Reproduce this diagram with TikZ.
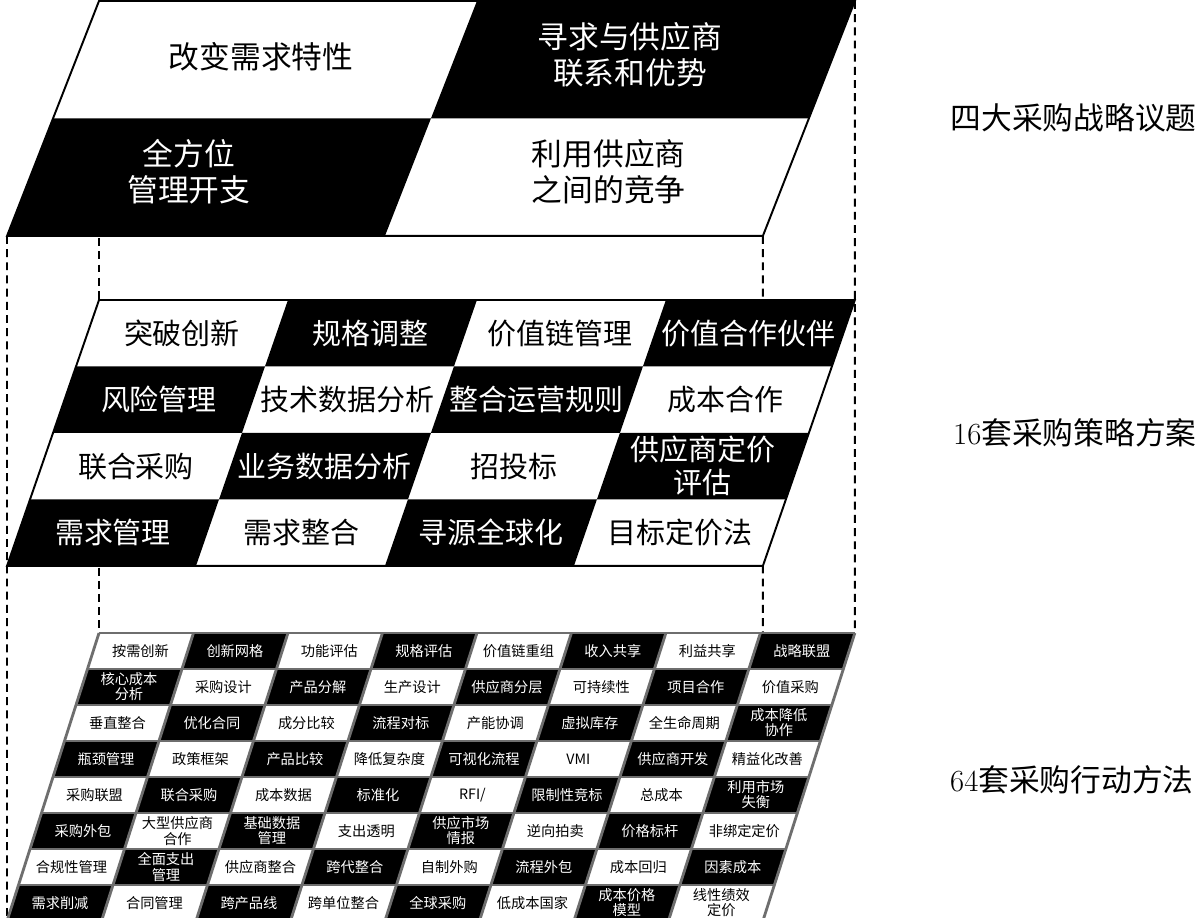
\documentclass[tikz,border=0pt]{standalone}
\usepackage{fontspec}
\usepackage{tikz}
\newfontfamily\cjk{Noto Sans CJK SC}
\definecolor{negro}{HTML}{000000}
\definecolor{blanco}{HTML}{FFFFFF}
\definecolor{rejilla}{HTML}{6E6E6E}
\tikzset{
  layerline/.style={draw=negro,line width=1.1pt},
  gridline/.style={draw=rejilla,line width=1.6pt},
  proj/.style={draw=negro,line width=1.1pt,dash pattern=on 4.5pt off 3pt},
  issueword/.style={font=\cjk\fontsize{17.5}{20.5}\selectfont,align=center,inner sep=0pt},
  planword/.style={font=\cjk\fontsize{16.5}{18.7}\selectfont,align=center,inner sep=0pt},
  actword/.style={font=\cjk\fontsize{8.1}{8.6}\selectfont,align=center,inner sep=0pt},
  levelword/.style={font=\fontsize{17.5}{21}\selectfont,anchor=east,inner sep=0pt},
  ondark/.style={text=blanco},
  onlight/.style={text=negro}
}

\begin{document}
\begin{tikzpicture}[x=0.02cm,y=-0.02cm]
\useasboundingbox (0,0) rectangle (1200,917);

% corners of the three layers
\begin{scope}[shift={(99,1)},x={(7.56cm,0cm)},y={(-0.92cm,-2.35cm)}]
\coordinate (tNW) at (0,0); \coordinate (tNE) at (2,0);
\coordinate (tSW) at (0,2); \coordinate (tSE) at (2,2);
\end{scope}
\begin{scope}[shift={(99,300)},x={(3.78cm,0cm)},y={(-0.46cm,-1.33cm)}]
\coordinate (mNW) at (0,0); \coordinate (mNE) at (4,0);
\coordinate (mSW) at (0,4); \coordinate (mSE) at (4,4);
\end{scope}
\begin{scope}[shift={(99,633)},x={(1.89cm,0cm)},y={(-0.23cm,-0.72cm)}]
\coordinate (bNW) at (0,0); \coordinate (bNE) at (8,0);
\coordinate (bSW) at (0,8); \coordinate (bSE) at (8,8);
\end{scope}

% projection lines
\draw[proj] (tSW)--(mSW)--(bSW);
\draw[proj] (tNW)--(mNW)--(bNW);
\draw[proj] (tSE)--(mSE)--(bSE);
\draw[proj] (tNE)--(mNE)--(bNE);

% four issues
\begin{scope}[shift={(99,1)},x={(7.56cm,0cm)},y={(-0.92cm,-2.35cm)}]
\fill[blanco] (tNW)--(tNE)--(tSE)--(tSW)--cycle;
\fill[negro] (1,0)--(2,0)--(2,1)--(1,1)--cycle;
\fill[negro] (0,1)--(1,1)--(1,2)--(0,2)--cycle;
\draw[layerline] (tNW)--(tNE)--(tSE)--(tSW)--cycle;
\node[issueword,onlight] (issue-1) at (0.487,0.477) {改变需求特性};
\node[issueword,ondark] (issue-2) at (1.461,0.46) {寻求与供应商\\联系和优势};
\node[issueword,ondark] (issue-3) at (0.415,1.455) {全方位\\管理开支};
\node[issueword,onlight] (issue-4) at (1.526,1.455) {利用供应商\\之间的竞争};
\end{scope}

% sixteen plans
\begin{scope}[shift={(99,300)},x={(3.78cm,0cm)},y={(-0.46cm,-1.33cm)}]
\fill[blanco] (mNW)--(mNE)--(mSE)--(mSW)--cycle;
\foreach \r in {0,...,3} \foreach \c in {0,...,3} {
  \pgfmathtruncatemacro\tono{mod(\r+\c,2)}
  \ifnum\tono=1 \fill[negro] (\c,\r)--++(1,0)--++(0,1)--++(-1,0)--cycle; \fi
}
\draw[layerline] (mNW)--(mNE)--(mSE)--(mSW)--cycle;
\node[planword,onlight] (plan-1) at (0.5,0.5) {突破创新};
\node[planword,ondark] (plan-2) at (1.5,0.5) {规格调整};
\node[planword,onlight] (plan-3) at (2.5,0.5) {价值链管理};
\node[planword,ondark] (plan-4) at (3.5,0.5) {价值合作伙伴};
\node[planword,ondark] (plan-5) at (0.5,1.5) {风险管理};
\node[planword,onlight] (plan-6) at (1.5,1.5) {技术数据分析};
\node[planword,ondark] (plan-7) at (2.5,1.5) {整合运营规则};
\node[planword,onlight] (plan-8) at (3.5,1.5) {成本合作};
\node[planword,onlight] (plan-9) at (0.5,2.5) {联合采购};
\node[planword,ondark] (plan-10) at (1.5,2.5) {业务数据分析};
\node[planword,onlight] (plan-11) at (2.5,2.5) {招投标};
\node[planword,ondark] (plan-12) at (3.5,2.5) {供应商定价\\评估};
\node[planword,ondark] (plan-13) at (0.5,3.5) {需求管理};
\node[planword,onlight] (plan-14) at (1.5,3.5) {需求整合};
\node[planword,ondark] (plan-15) at (2.5,3.5) {寻源全球化};
\node[planword,onlight] (plan-16) at (3.5,3.5) {目标定价法};
\end{scope}

% sixty-four actions
\begin{scope}[shift={(99,633)},x={(1.89cm,0cm)},y={(-0.23cm,-0.72cm)}]
\fill[blanco] (bNW)--(bNE)--(bSE)--(bSW)--cycle;
\foreach \r in {0,...,7} \foreach \c in {0,...,7} {
  \pgfmathtruncatemacro\tono{mod(\r+\c,2)}
  \ifnum\tono=1 \fill[negro] (\c,\r)--++(1,0)--++(0,1)--++(-1,0)--cycle; \fi
}
\foreach \i in {0,...,8} {
  \draw[gridline] (\i,0)--(\i,8);
  \draw[gridline] (0,\i)--(8,\i);
}
\node[actword,onlight] (act-1) at (0.5,0.5) {按需创新};
\node[actword,ondark] (act-2) at (1.5,0.5) {创新网格};
\node[actword,onlight] (act-3) at (2.5,0.5) {功能评估};
\node[actword,ondark] (act-4) at (3.5,0.5) {规格评估};
\node[actword,onlight] (act-5) at (4.5,0.5) {价值链重组};
\node[actword,ondark] (act-6) at (5.5,0.5) {收入共享};
\node[actword,onlight] (act-7) at (6.5,0.5) {利益共享};
\node[actword,ondark] (act-8) at (7.5,0.5) {战略联盟};

\node[actword,ondark] (act-9) at (0.5,1.5) {核心成本\\分析};
\node[actword,onlight] (act-10) at (1.5,1.5) {采购设计};
\node[actword,ondark] (act-11) at (2.5,1.5) {产品分解};
\node[actword,onlight] (act-12) at (3.5,1.5) {生产设计};
\node[actword,ondark] (act-13) at (4.5,1.5) {供应商分层};
\node[actword,onlight] (act-14) at (5.5,1.5) {可持续性};
\node[actword,ondark] (act-15) at (6.5,1.5) {项目合作};
\node[actword,onlight] (act-16) at (7.5,1.5) {价值采购};

\node[actword,onlight] (act-17) at (0.5,2.5) {垂直整合};
\node[actword,ondark] (act-18) at (1.5,2.5) {优化合同};
\node[actword,onlight] (act-19) at (2.5,2.5) {成分比较};
\node[actword,ondark] (act-20) at (3.5,2.5) {流程对标};
\node[actword,onlight] (act-21) at (4.5,2.5) {产能协调};
\node[actword,ondark] (act-22) at (5.5,2.5) {虚拟库存};
\node[actword,onlight] (act-23) at (6.5,2.5) {全生命周期};
\node[actword,ondark] (act-24) at (7.5,2.5) {成本降低\\协作};

\node[actword,ondark] (act-25) at (0.5,3.5) {瓶颈管理};
\node[actword,onlight] (act-26) at (1.5,3.5) {政策框架};
\node[actword,ondark] (act-27) at (2.5,3.5) {产品比较};
\node[actword,onlight] (act-28) at (3.5,3.5) {降低复杂度};
\node[actword,ondark] (act-29) at (4.5,3.5) {可视化流程};
\node[actword,onlight] (act-30) at (5.5,3.5) {VMI};
\node[actword,ondark] (act-31) at (6.5,3.5) {供应商开发};
\node[actword,onlight] (act-32) at (7.5,3.5) {精益化改善};

\node[actword,onlight] (act-33) at (0.5,4.5) {采购联盟};
\node[actword,ondark] (act-34) at (1.5,4.5) {联合采购};
\node[actword,onlight] (act-35) at (2.5,4.5) {成本数据};
\node[actword,ondark] (act-36) at (3.5,4.5) {标准化};
\node[actword,onlight] (act-37) at (4.5,4.5) {RFI/};
\node[actword,ondark] (act-38) at (5.5,4.5) {限制性竞标};
\node[actword,onlight] (act-39) at (6.5,4.5) {总成本};
\node[actword,ondark] (act-40) at (7.5,4.5) {利用市场\\失衡};

\node[actword,ondark] (act-41) at (0.5,5.5) {采购外包};
\node[actword,onlight] (act-42) at (1.5,5.5) {大型供应商\\合作};
\node[actword,ondark] (act-43) at (2.5,5.5) {基础数据\\管理};
\node[actword,onlight] (act-44) at (3.5,5.5) {支出透明};
\node[actword,ondark] (act-45) at (4.5,5.5) {供应市场\\情报};
\node[actword,onlight] (act-46) at (5.5,5.5) {逆向拍卖};
\node[actword,ondark] (act-47) at (6.5,5.5) {价格标杆};
\node[actword,onlight] (act-48) at (7.5,5.5) {非绑定定价};

\node[actword,onlight] (act-49) at (0.5,6.5) {合规性管理};
\node[actword,ondark] (act-50) at (1.5,6.5) {全面支出\\管理};
\node[actword,onlight] (act-51) at (2.5,6.5) {供应商整合};
\node[actword,ondark] (act-52) at (3.5,6.5) {跨代整合};
\node[actword,onlight] (act-53) at (4.5,6.5) {自制外购};
\node[actword,ondark] (act-54) at (5.5,6.5) {流程外包};
\node[actword,onlight] (act-55) at (6.5,6.5) {成本回归};
\node[actword,ondark] (act-56) at (7.5,6.5) {因素成本};

\node[actword,ondark] (act-57) at (0.5,7.5) {需求削减};
\node[actword,onlight] (act-58) at (1.5,7.5) {合同管理};
\node[actword,ondark] (act-59) at (2.5,7.5) {跨产品线};
\node[actword,onlight] (act-60) at (3.5,7.5) {跨单位整合};
\node[actword,ondark] (act-61) at (4.5,7.5) {全球采购};
\node[actword,onlight] (act-62) at (5.5,7.5) {低成本国家};
\node[actword,ondark] (act-63) at (6.5,7.5) {成本价格\\模型};
\node[actword,onlight] (act-64) at (7.5,7.5) {线性绩效\\定价};
\end{scope}

% level names
\node[levelword] (issues) at (1197,118) {\cjk 四大采购战略议题};
\node[levelword] (plans) at (1197,433) {16\cjk 套采购策略方案};
\node[levelword] (acts) at (1194,780) {64\cjk 套采购行动方法};
\end{tikzpicture}
\end{document}
